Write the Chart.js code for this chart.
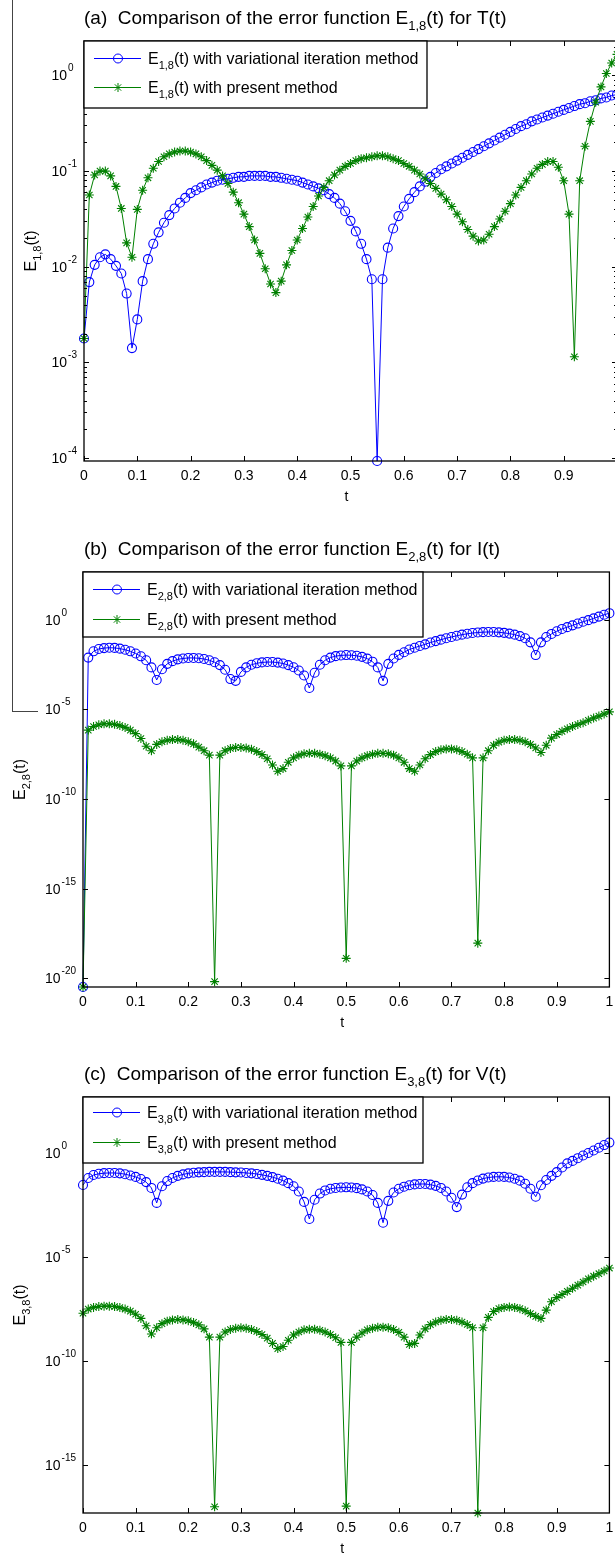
<!DOCTYPE html>
<html>
<head>
<meta charset="utf-8">
<script src="https://cdn.jsdelivr.net/npm/chart.js@4.4.1/dist/chart.umd.min.js"></script>
<style>
  html, body { margin: 0; padding: 0; background: #fff; overflow: hidden; }
  #page { position: relative; width: 615px; height: 1554px; overflow: hidden; background: #fff; }
  #page canvas { position: absolute; left: 0; }
  .edge { position: absolute; background: #444; }
</style>
</head>
<body>
<div id="page">
  <canvas id="panel-a" width="630" height="530" style="top:0"></canvas>
  <canvas id="panel-b" width="615" height="520" style="top:530px"></canvas>
  <canvas id="panel-c" width="615" height="504" style="top:1050px"></canvas>
  <div class="edge" style="left:12px;top:0;width:1px;height:712px"></div>
  <div class="edge" style="left:12px;top:711px;width:26px;height:1px"></div>
</div>
<script>
// t runs over [0, 1] with step 0.01 (101 samples per curve)
const T_STEP = 0.01;
const T_TICKS = [0, 0.1, 0.2, 0.3, 0.4, 0.5, 0.6, 0.7, 0.8, 0.9, 1];
const T_LABELS = ['0', '0.1', '0.2', '0.3', '0.4', '0.5', '0.6', '0.7', '0.8', '0.9', '1'];

// errors stored as log10 values, one per sample of t
// (a) E_1,8 for T(t)
const logVimA = [
  -2.75, -2.16, -1.98, -1.9, -1.87, -1.92, -1.99, -2.07, -2.28, -2.85,
  -2.55, -2.15, -1.92, -1.76, -1.64, -1.54, -1.46, -1.39, -1.33, -1.28,
  -1.23, -1.2, -1.17, -1.14, -1.12, -1.1, -1.09, -1.08, -1.07, -1.06,
  -1.06, -1.05, -1.05, -1.05, -1.05, -1.06, -1.06, -1.07, -1.08, -1.09,
  -1.1, -1.12, -1.14, -1.16, -1.18, -1.2, -1.24, -1.28, -1.34, -1.42,
  -1.52, -1.63, -1.76, -1.92, -2.13, -4.03, -2.13, -1.8, -1.6, -1.47,
  -1.37, -1.29, -1.22, -1.16, -1.11, -1.06, -1.02, -0.98, -0.95, -0.92,
  -0.89, -0.86, -0.83, -0.8, -0.77, -0.74, -0.71, -0.68, -0.65, -0.62,
  -0.59, -0.56, -0.53, -0.51, -0.48, -0.46, -0.44, -0.42, -0.4, -0.38,
  -0.36, -0.34, -0.32, -0.3, -0.29, -0.27, -0.26, -0.24, -0.23, -0.21,
  -0.2
];
const logPresA = [
  -2.75, -1.25, -1.04, -1.0, -1.0, -1.05, -1.16, -1.39, -1.75, -1.9,
  -1.4, -1.2, -1.07, -0.97, -0.9, -0.85, -0.82, -0.8, -0.79, -0.79,
  -0.8, -0.82, -0.85, -0.89, -0.94, -0.99, -1.05, -1.13, -1.22, -1.33,
  -1.45, -1.58, -1.72, -1.86, -2.02, -2.18, -2.27, -2.15, -1.98, -1.83,
  -1.72, -1.6, -1.48, -1.37, -1.26, -1.17, -1.1, -1.04, -0.99, -0.95,
  -0.92, -0.89, -0.87, -0.86, -0.85, -0.84, -0.84, -0.85, -0.87, -0.89,
  -0.92, -0.95, -0.99, -1.03, -1.08, -1.13, -1.18, -1.24, -1.3, -1.37,
  -1.45, -1.53, -1.61, -1.68, -1.73, -1.72, -1.66, -1.58, -1.5, -1.42,
  -1.34, -1.25, -1.17, -1.1, -1.03, -0.97, -0.93, -0.9, -0.9, -0.96,
  -1.1, -1.45, -2.94, -1.1, -0.74, -0.48, -0.28, -0.12, 0.02, 0.13,
  0.22
];

// (b) E_2,8 for I(t)
const logVimB = [
  -20.5, -2.1, -1.75, -1.62, -1.57, -1.55, -1.56, -1.6, -1.66, -1.75,
  -1.87, -2.03, -2.25, -2.65, -3.35, -2.75, -2.45, -2.3, -2.2, -2.15,
  -2.12, -2.12, -2.14, -2.18, -2.25, -2.36, -2.52, -2.78, -3.3, -3.4,
  -2.9, -2.65, -2.5, -2.42, -2.37, -2.35, -2.35, -2.38, -2.43, -2.52,
  -2.64, -2.82, -3.1, -3.8, -2.95, -2.5, -2.25, -2.1, -2.02, -1.98,
  -1.96, -1.97, -2.0, -2.06, -2.16, -2.33, -2.65, -3.4, -2.45, -2.15,
  -1.95, -1.8, -1.65, -1.55, -1.45, -1.36, -1.26, -1.18, -1.1, -1.02,
  -0.95, -0.88, -0.82, -0.77, -0.73, -0.7, -0.68, -0.67, -0.67, -0.69,
  -0.72, -0.76, -0.82, -0.9, -1.02, -1.25, -1.96, -1.25, -0.95, -0.78,
  -0.63, -0.5, -0.4, -0.3, -0.2, -0.1, -0.01, 0.09, 0.19, 0.29,
  0.38
];
const logPresB = [
  -20.5, -6.15, -5.95, -5.85, -5.8, -5.8, -5.83, -5.9, -6.0, -6.15,
  -6.35, -6.62, -7.05, -7.3, -6.95, -6.8, -6.72, -6.68, -6.68, -6.72,
  -6.8, -6.92, -7.1, -7.3, -7.55, -20.2, -7.55, -7.3, -7.18, -7.12,
  -7.12, -7.15, -7.22, -7.35, -7.52, -7.75, -8.1, -8.45, -8.3, -7.95,
  -7.7, -7.55, -7.47, -7.45, -7.45, -7.5, -7.58, -7.7, -7.88, -8.15,
  -18.9, -8.15, -7.88, -7.7, -7.58, -7.5, -7.45, -7.45, -7.47, -7.55,
  -7.7, -7.95, -8.3, -8.45, -8.1, -7.75, -7.52, -7.35, -7.25, -7.2,
  -7.2, -7.25, -7.35, -7.5, -7.7, -18.05, -7.7, -7.3, -7.0, -6.82,
  -6.72, -6.68, -6.68, -6.72, -6.8, -6.95, -7.15, -7.4, -7.0, -6.6,
  -6.4, -6.22, -6.08, -5.95, -5.84, -5.74, -5.6, -5.48, -5.37, -5.25,
  -5.13
];

// (c) E_3,8 for V(t)
const logVimC = [
  -1.54, -1.2, -1.06, -1.0, -0.97, -0.96, -0.96, -0.98, -1.02, -1.08,
  -1.15, -1.25, -1.4, -1.68, -2.4, -1.6, -1.35, -1.2, -1.1, -1.03,
  -0.98, -0.95, -0.93, -0.92, -0.91, -0.91, -0.91, -0.91, -0.92, -0.93,
  -0.94, -0.96, -0.98, -1.01, -1.05, -1.1, -1.16, -1.24, -1.33, -1.45,
  -1.6, -1.85, -2.35, -3.17, -2.25, -1.95, -1.8, -1.72, -1.68, -1.66,
  -1.65, -1.66, -1.69, -1.75, -1.85, -2.02, -2.4, -3.35, -2.3, -1.9,
  -1.72, -1.62, -1.55, -1.51, -1.49, -1.49, -1.52, -1.58, -1.68, -1.85,
  -2.15, -2.6, -2.0, -1.65, -1.45, -1.32, -1.23, -1.18, -1.15, -1.14,
  -1.15, -1.18, -1.24, -1.33, -1.48, -1.72, -2.1, -1.55, -1.3, -1.1,
  -0.92, -0.7, -0.5, -0.38, -0.25, -0.12, 0.0, 0.12, 0.25, 0.38,
  0.5
];
const logPresC = [
  -7.7, -7.5, -7.42, -7.38, -7.36, -7.36, -7.38, -7.43, -7.5, -7.6,
  -7.75, -7.95, -8.3, -8.7, -8.4, -8.2, -8.08, -8.02, -8.0, -8.02,
  -8.06, -8.14, -8.26, -8.45, -8.85, -17.0, -8.85, -8.6, -8.48, -8.42,
  -8.4, -8.42, -8.48, -8.58, -8.72, -8.9, -9.15, -9.4, -9.3, -9.0,
  -8.75, -8.6, -8.5, -8.47, -8.47, -8.52, -8.6, -8.72, -8.88, -9.1,
  -16.97, -9.1, -8.85, -8.65, -8.5, -8.42, -8.38, -8.37, -8.4, -8.48,
  -8.62, -8.85, -9.2, -9.15, -8.75, -8.45, -8.25, -8.12, -8.04, -8.0,
  -8.0, -8.04, -8.12, -8.24, -8.4, -17.3, -8.4, -7.9, -7.62, -7.48,
  -7.42, -7.4, -7.42, -7.48, -7.58, -7.72, -7.85, -7.95, -7.55, -7.15,
  -6.95, -6.8, -6.65, -6.5, -6.35, -6.2, -6.05, -5.92, -5.8, -5.67,
  -5.53
];

const BLUE = '#0000ff';
const GREEN = '#008000';
const FONT = '"Liberation Sans", Arial, sans-serif';

const panels = [
  {
    id: 'panel-a', tag: '(a)', sub: '1,8', fn: 'T(t)',
    vim: logVimA, pres: logPresA,
    yMin: -4.03, yMax: 0.36, decades: [0, -1, -2, -3, -4], minor: true,
    pad: { left: 84, top: 41, right: 13, bottom: 69 },
    labelRight: 612,
    yTitleX: 31, legend: { w: 343, h: 67, rows: [17, 46] }
  },
  {
    id: 'panel-b', tag: '(b)', sub: '2,8', fn: 'I(t)',
    vim: logVimB, pres: logPresB,
    yMin: -20.5, yMax: 2.68, decades: [0, -5, -10, -15, -20], minor: false,
    pad: { left: 83, top: 42, right: 4, bottom: 63 },
    labelRight: 615,
    yTitleX: 20, legend: { w: 340, h: 65, rows: [17, 47] }
  },
  {
    id: 'panel-c', tag: '(c)', sub: '3,8', fn: 'V(t)',
    vim: logVimC, pres: logPresC,
    yMin: -17.3, yMax: 2.69, decades: [0, -5, -10, -15], minor: false,
    pad: { left: 83, top: 47, right: 4, bottom: 41 },
    labelRight: 615,
    yTitleX: 20, legend: { w: 340, h: 66, rows: [15, 45] }
  }
];

// text made of plain and subscript pieces: [[text, isSub], ...]
function richWidth(ctx, parts, size, subSize) {
  let w = 0;
  for (const [txt, sub] of parts) {
    ctx.font = (sub ? subSize : size) + 'px ' + FONT;
    w += ctx.measureText(txt).width;
  }
  return w;
}

function drawRich(ctx, parts, x, baseline, size, subSize, subDy) {
  let cx = x;
  for (const [txt, sub] of parts) {
    ctx.font = (sub ? subSize : size) + 'px ' + FONT;
    ctx.fillText(txt, cx, sub ? baseline + subDy : baseline);
    cx += ctx.measureText(txt).width;
  }
}

function line(ctx, x1, y1, x2, y2) {
  ctx.moveTo(x1, y1);
  ctx.lineTo(x2, y2);
}

function decorFor(p) {
  return {
    id: 'decor',
    afterDatasetsDraw(chart) {
      const { ctx, chartArea: a, scales: { x, y } } = chart;
      ctx.save();
      ctx.strokeStyle = '#000';
      ctx.fillStyle = '#000';
      ctx.textBaseline = 'alphabetic';

      // inward tick marks on all four sides
      ctx.lineWidth = 1;
      ctx.beginPath();
      for (const t of T_TICKS) {
        const px = Math.round(x.getPixelForValue(t)) + 0.5;
        line(ctx, px, a.bottom, px, a.bottom - 5);
        line(ctx, px, a.top, px, a.top + 5);
      }
      for (const k of p.decades) {
        const py = Math.round(y.getPixelForValue(Math.pow(10, k))) + 0.5;
        line(ctx, a.left, py, a.left + 5, py);
        line(ctx, a.right, py, a.right - 5, py);
      }
      if (p.minor) {
        for (let k = Math.floor(p.yMin); k < Math.ceil(p.yMax); k++) {
          for (let m = 2; m <= 9; m++) {
            const v = m * Math.pow(10, k);
            if (v < y.min || v > y.max) continue;
            const py = Math.round(y.getPixelForValue(v)) + 0.5;
            line(ctx, a.left, py, a.left + 3, py);
            line(ctx, a.right, py, a.right - 3, py);
          }
        }
      }
      ctx.stroke();

      // axes box
      ctx.lineWidth = 1.3;
      ctx.strokeRect(a.left, a.top, a.right - a.left, a.bottom - a.top);

      // t tick labels and axis name
      ctx.font = '14px ' + FONT;
      ctx.textAlign = 'center';
      T_TICKS.forEach((t, i) => {
        const px = x.getPixelForValue(t);
        if (px > p.labelRight) return;
        ctx.fillText(T_LABELS[i], px, a.bottom + 19);
      });
      ctx.fillText('t', (a.left + a.right) / 2 - 4, a.bottom + 40);

      // y tick labels as 10 with a raised exponent
      ctx.textAlign = 'left';
      ctx.font = '10px ' + FONT;
      const expW = Math.max(...p.decades.map(k => ctx.measureText(String(k)).width));
      ctx.font = '14px ' + FONT;
      const tenW = ctx.measureText('10').width;
      const tenX = a.left - 7 - expW - 1 - tenW;
      for (const k of p.decades) {
        const py = y.getPixelForValue(Math.pow(10, k));
        ctx.font = '14px ' + FONT;
        ctx.fillText('10', tenX, py + 5);
        ctx.font = '10px ' + FONT;
        ctx.fillText(String(k), tenX + tenW + 1, py - 4);
      }

      // rotated y axis name
      const yParts = [['E', false], [p.sub, true], ['(t)', false]];
      const yw = richWidth(ctx, yParts, 16, 11);
      ctx.save();
      ctx.translate(p.yTitleX + 5, (a.top + a.bottom) / 2);
      ctx.rotate(-Math.PI / 2);
      drawRich(ctx, yParts, -yw / 2, 0, 16, 11, 5);
      ctx.restore();

      // legend box in the upper left corner
      const L = p.legend;
      ctx.fillStyle = '#fff';
      ctx.fillRect(a.left, a.top, L.w, L.h);
      ctx.lineWidth = 1.3;
      ctx.strokeRect(a.left, a.top, L.w, L.h);
      const entries = [
        { color: BLUE, style: 'circle', text: ' with variational iteration method' },
        { color: GREEN, style: 'star', text: ' with present method' }
      ];
      entries.forEach((e, i) => {
        const ly = a.top + L.rows[i];
        ctx.strokeStyle = e.color;
        ctx.lineWidth = 1;
        ctx.beginPath();
        line(ctx, a.left + 10, ly + 0.5, a.left + 57, ly + 0.5);
        ctx.stroke();
        ctx.fillStyle = 'rgba(0,0,0,0)';
        Chart.helpers.drawPoint(ctx, { pointStyle: e.style, radius: 4.5, rotation: 0, borderWidth: 1 }, a.left + 34, ly + 0.5);
        ctx.fillStyle = '#000';
        drawRich(ctx, [['E', false], [p.sub, true], ['(t)' + e.text, false]], a.left + 64, ly + 6, 16, 11, 5);
      });

      // panel title
      ctx.fillStyle = '#000';
      drawRich(ctx, [[p.tag + '  Comparison of the error function E', false], [p.sub, true], ['(t) for ' + p.fn, false]],
        84, a.top - 17, 19, 13, 6);

      ctx.restore();
    }
  };
}

function makePanel(p) {
  const pts = arr => arr.map((v, i) => ({ x: i * T_STEP, y: Math.pow(10, v) }));
  return new Chart(document.getElementById(p.id), {
    type: 'line',
    data: {
      datasets: [
        {
          label: 'variational iteration method',
          data: pts(p.vim),
          order: 1,
          borderColor: BLUE, borderWidth: 1, tension: 0,
          pointStyle: 'circle', pointRadius: 4.5,
          pointBorderColor: BLUE, pointBackgroundColor: 'rgba(0,0,0,0)', pointBorderWidth: 1.1,
          clip: 6
        },
        {
          label: 'present method',
          data: pts(p.pres),
          order: 0,
          borderColor: GREEN, borderWidth: 1, tension: 0,
          pointStyle: 'star', pointRadius: 4.5,
          pointBorderColor: GREEN, pointBackgroundColor: GREEN, pointBorderWidth: 1.1,
          clip: 6
        }
      ]
    },
    options: {
      responsive: false,
      animation: false,
      devicePixelRatio: 1,
      events: [],
      layout: { padding: p.pad },
      plugins: { legend: { display: false }, tooltip: { enabled: false } },
      scales: {
        x: { type: 'linear', min: 0, max: 1, display: false },
        y: { type: 'logarithmic', min: Math.pow(10, p.yMin), max: Math.pow(10, p.yMax), display: false }
      }
    },
    plugins: [decorFor(p)]
  });
}

panels.forEach(makePanel);
</script>
</body>
</html>
